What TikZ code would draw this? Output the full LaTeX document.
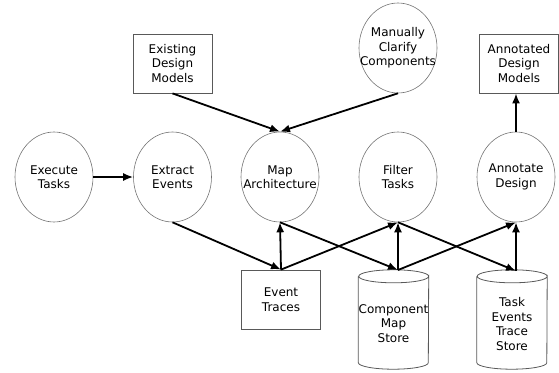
\documentclass[tikz,border=0pt]{standalone}
\usepackage{fontspec}
\setmainfont{DejaVu Sans}
\usetikzlibrary{shapes.geometric,arrows.meta,calc}

\tikzset{
  proc/.style={ellipse, draw=black!55, line width=0.6pt, minimum width=78pt,
    minimum height=90pt, inner sep=0pt,
    label={[align=center, inner sep=0pt]center:#1}},
  artefact/.style={rectangle, draw=black!65, line width=0.8pt, minimum width=79pt,
    minimum height=59pt, inner sep=0pt, align=center},
  store/.style={rectangle, minimum width=70pt, minimum height=99pt, inner sep=0pt},
  storetext/.style={align=center, inner sep=0pt},
  flow/.style={-{Latex[length=10pt,width=8pt]}, line width=1.8pt, black},
}

% upright cylinder around a store node: cap ellipses above and below its box
\newcommand{\drawcyl}[1]{%
  \draw[black!65, line width=0.8pt]
    ($(#1.north west)+(0,6.5)$) -- ($(#1.south west)+(0,-6.5)$)
    arc[start angle=180, end angle=360, x radius=35pt, y radius=6.5pt]
    -- ($(#1.north east)+(0,6.5)$)
    arc[start angle=0, end angle=-360, x radius=35pt, y radius=6.5pt];
}

\begin{document}
\begin{tikzpicture}[x=1pt, y=-1pt, font=\fontsize{12}{14.5}\selectfont]
\useasboundingbox (0,0) rectangle (559,372);

% processes
\node[proc={Execute\\Tasks}] (exec) at (54,177) {};
\node[proc={Extract\\Events}] (extr) at (172.5,177) {};
\node[proc={Map\\Architecture}] (map) at (280,177) {};
\node[proc={Filter\\Tasks}] (filt) at (398,177) {};
\node[proc={Annotate\\Design}] (annd) at (516,177) {};
\node[proc={Manually\\Clarify\\Components}] (clar) at (398,48) {};

% documents
\node[artefact] (edm) at (172.5,63.5) {Existing\\Design\\Models};
\node[artefact] (adm) at (519,63.5) {Annotated\\Design\\Models};
\node[artefact] (evt) at (281,299.5) {Event\\Traces};

% data stores
\node[store] (cms) at (393.5,319.5) {};
\node[store] (tes) at (512,319.5) {};
\drawcyl{cms}
\drawcyl{tes}
\node[storetext] (cmsl) at (393.5,323.5) {Component\\Map\\Store};
\node[storetext] (tesl) at (512,324) {Task\\Events\\Trace\\Store};
\coordinate (cmsT) at (398,270);
\coordinate (tesT) at (516,271);

% flows
\draw[flow] (exec.east) -- (extr.west);
\draw[flow] (edm.south) -- (map.north);
\draw[flow] (clar.south) -- (map.north);
\draw[flow] (annd.north) -- (annd.north |- adm.south);
\draw[flow] (extr.south) -- (evt.north);
\draw[flow] (evt.north) -- (map.south);
\draw[flow] (evt.north) -- (filt.south);
\draw[flow] (map.south) -- (cmsT);
\draw[flow] (cmsT) -- (filt.south);
\draw[flow] (cmsT) -- (annd.south);
\draw[flow] (filt.south) -- (tesT);
\draw[flow] (tesT) -- (annd.south);
\end{tikzpicture}
\end{document}
